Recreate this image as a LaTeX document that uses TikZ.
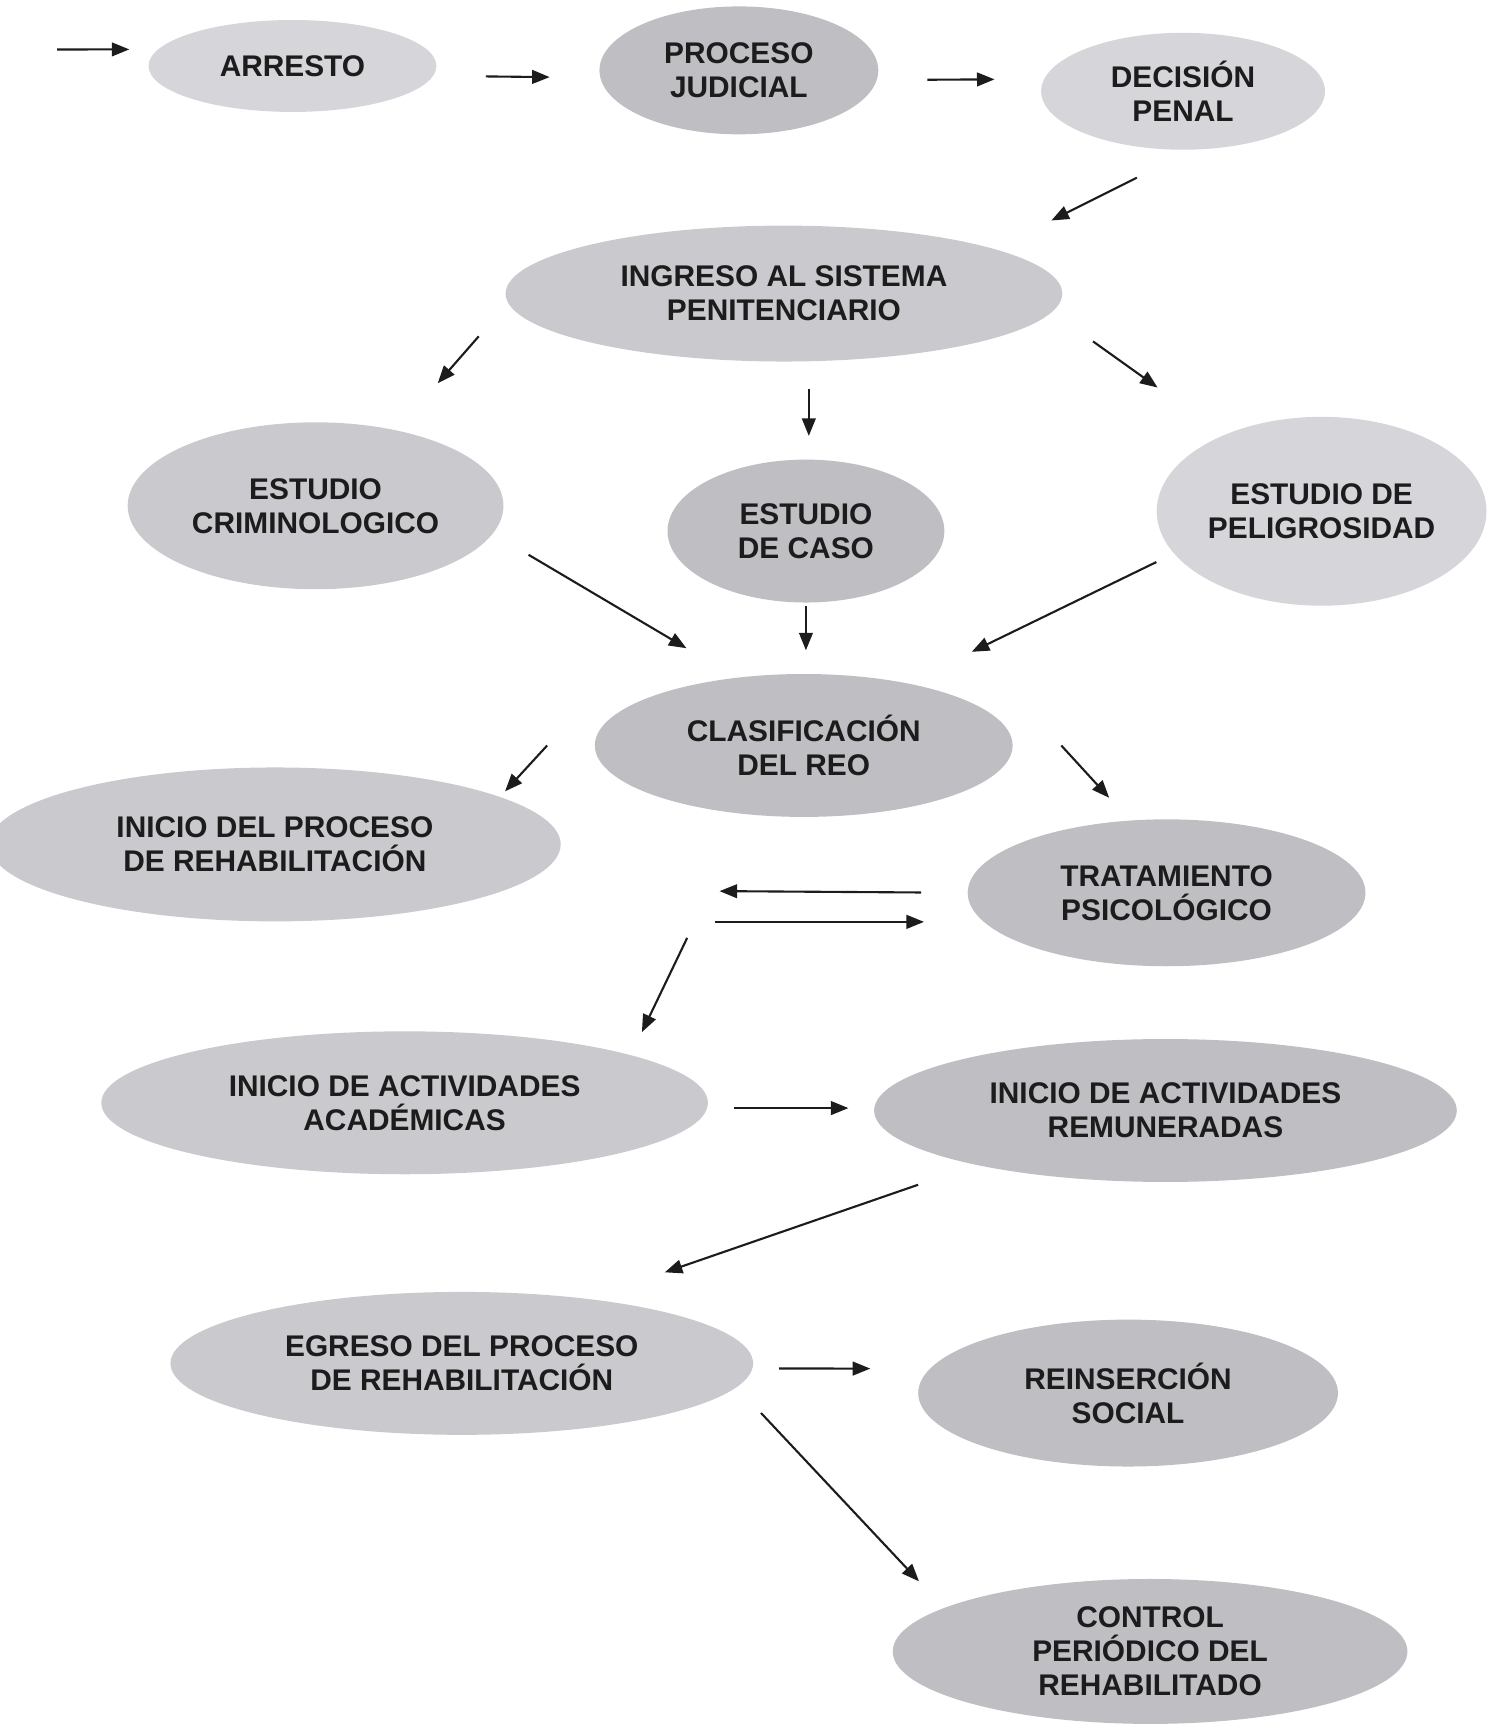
\documentclass[tikz,border=0pt]{standalone}
\usepackage{fontspec}
\setmainfont{Liberation Sans}
\usetikzlibrary{arrows.meta,shapes.geometric}
\definecolor{GrisClaro}{RGB}{214,214,218}
\definecolor{GrisMedio}{RGB}{202,202,206}
\definecolor{GrisOscuro}{RGB}{191,191,195}
\definecolor{Tinta}{RGB}{28,28,28}

\begin{document}
\begin{tikzpicture}[
      x=0.011cm,y=-0.011cm,
      font=\fontsize{8.5}{9.7}\selectfont\bfseries,
      claro/.style={ellipse,fill=GrisClaro,text=Tinta,inner sep=0pt,align=center},
      medio/.style={ellipse,fill=GrisMedio,text=Tinta,inner sep=0pt,align=center},
      oscuro/.style={ellipse,fill=GrisOscuro,text=Tinta,inner sep=0pt,align=center},
      arrow/.style={-{Triangle[length=5pt,width=3.9pt]},line width=0.6pt,draw=Tinta}
    ]
      \useasboundingbox (0,0) rectangle (1355,1568);

      \node[claro,minimum width=2.88cm,minimum height=0.92cm] (arresto) at (266,60) {ARRESTO};
      \node[oscuro,minimum width=2.79cm,minimum height=1.28cm] (proceso) at (672,64) {PROCESO\\JUDICIAL};
      \node[claro,minimum width=2.84cm,minimum height=1.17cm] (decision) at (1076,83) {DECISIÓN\\PENAL};
      \node[medio,minimum width=5.57cm,minimum height=1.36cm] (ingreso) at (713,267) {INGRESO AL SISTEMA\\PENITENCIARIO};
      \node[medio,minimum width=3.76cm,minimum height=1.67cm] (criminologico) at (287,460) {ESTUDIO\\CRIMINOLOGICO};
      \node[oscuro,minimum width=2.77cm,minimum height=1.43cm] (caso) at (733,483) {ESTUDIO\\DE CASO};
      \node[claro,minimum width=3.30cm,minimum height=1.89cm] (peligrosidad) at (1202,465) {ESTUDIO DE\\PELIGROSIDAD};
      \node[oscuro,minimum width=4.18cm,minimum height=1.43cm] (clasificacion) at (731,678) {CLASIFICACIÓN\\DEL REO};
      \node[medio,minimum width=5.72cm,minimum height=1.54cm] (rehab) at (250,768) {INICIO DEL PROCESO\\DE REHABILITACIÓN};
      \node[oscuro,minimum width=3.98cm,minimum height=1.47cm] (tratamiento) at (1061,812) {TRATAMIENTO\\PSICOLÓGICO};
      \node[medio,minimum width=6.07cm,minimum height=1.43cm] (academicas) at (368,1003) {INICIO DE ACTIVIDADES\\ACADÉMICAS};
      \node[oscuro,minimum width=5.83cm,minimum height=1.43cm] (remuneradas) at (1060,1010) {INICIO DE ACTIVIDADES\\REMUNERADAS};
      \node[medio,minimum width=5.83cm,minimum height=1.43cm] (egreso) at (420,1240) {EGRESO DEL PROCESO\\DE REHABILITACIÓN};
      \node[oscuro,minimum width=4.20cm,minimum height=1.47cm] (reinsercion) at (1026,1267) {REINSERCIÓN\\SOCIAL};
      \node[oscuro,minimum width=5.15cm,minimum height=1.45cm] (control) at (1046,1502) {CONTROL\\PERIÓDICO DEL\\REHABILITADO};

      \coordinate (entrada) at (52,45);
      \coordinate (enlace) at (625,853);

      \draw[arrow,shorten >=0.28cm] (entrada) -- (arresto.173);
      \draw[arrow,shorten <=0.52cm,shorten >=0.50cm] (arresto.-4.5) -- (proceso.-177.3);
      \draw[arrow,shorten <=0.50cm,shorten >=0.49cm] (proceso.-4.1) -- (decision.175.5);
      \draw[arrow,shorten <=0.61cm,shorten >=0.63cm] (decision.-82.5) -- (ingreso.12.8);

      \draw[arrow,shorten <=0.44cm,shorten >=0.62cm] (ingreso.182.5) -- (criminologico.43.8);
      \draw[arrow,shorten <=0.27cm,shorten >=0.23cm] (ingreso.-70.4) -- (ingreso.-70.4 |- caso.north);
      \draw[arrow,shorten <=0.50cm,shorten >=0.81cm] (ingreso.-4.9) -- (peligrosidad.142.4);

      \draw[arrow,shorten <=0.41cm,shorten >=0.57cm] (criminologico.-9.2) -- (clasificacion.135.8);
      \draw[arrow,shorten <=0.03cm,shorten >=0.23cm] (caso.south) -- (caso.south |- clasificacion.north);
      \draw[arrow,shorten <=0.19cm,shorten >=0.71cm] (peligrosidad.-164.5) -- (clasificacion.31);

      \draw[arrow,shorten >=0.07cm] ([xshift=-0.47cm]clasificacion.west) -- (rehab.12.1);
      \draw[arrow,shorten >=0.30cm] ([xshift=0.48cm]clasificacion.east) -- (tratamiento.117.8);

      % ida y vuelta
      \draw[arrow,shorten <=0.46cm,shorten >=2.12cm] (tratamiento.180.3) -- (rehab.-11.8);
      \draw[arrow,shorten <=2.07cm,shorten >=0.59cm] (rehab.-11.8 |- tratamiento.-171.1) -- (tratamiento.-171.1);
      \draw[arrow,shorten >=0.25cm] (enlace) -- (academicas.12);

      \draw[arrow,shorten <=0.26cm,shorten >=0.25cm] (academicas.-1) -- (academicas.-1 -| remuneradas.west);
      \draw[arrow,shorten <=0.60cm,shorten >=0.80cm] (remuneradas.-164.3) -- (egreso.27.2);
      \draw[arrow,shorten <=0.26cm,shorten >=0.59cm] (egreso.-1.1) -- (reinsercion.173);
      \draw[arrow,shorten <=0.35cm,shorten >=0.36cm] (egreso.-5.9) -- (control.168.7);
    \end{tikzpicture}
\end{document}
